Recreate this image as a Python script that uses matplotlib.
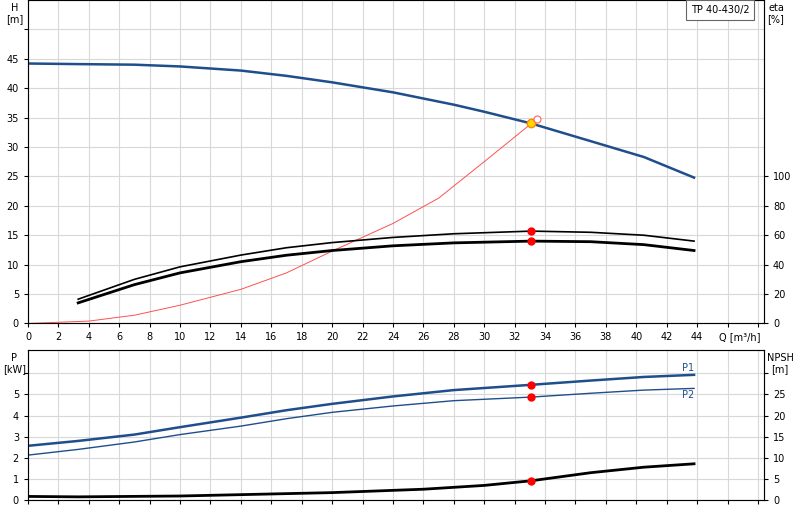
import matplotlib
matplotlib.use("Agg")
import matplotlib.pyplot as plt
import numpy as np

q_h = [0, 3.3, 7, 10, 14, 17, 20, 24, 28, 30, 33.1, 37, 40.5, 43.8]
h_vals = [44.2, 44.1, 44.0, 43.7, 43.0, 42.1, 41.0, 39.3, 37.2, 36.0, 34.0, 31.0, 28.3, 24.8]
q_e = [3.3, 7, 10, 14, 17, 20, 24, 28, 33.1, 37, 40.5, 43.8]
eta1 = [16.5, 30, 38.5, 46.5, 51.5, 55, 58.5, 61, 62.8, 62, 60, 56]
eta2 = [14, 26.4, 34.4, 42, 46.4, 49.6, 52.8, 54.8, 56, 55.6, 53.6, 49.6]
q_sys = [0, 4, 7, 10, 14, 17, 20, 24, 27, 30, 33.1]
h_sys = [0, 0.4, 1.4, 3.1, 5.8, 8.6, 12.3, 17.0, 21.3, 27.5, 34.0]
q_p = [0, 3.3, 7, 10, 14, 17, 20, 24, 28, 33.1, 37, 40.5, 43.8]
p1 = [2.57, 2.8, 3.1, 3.45, 3.9, 4.25, 4.55, 4.9, 5.2, 5.45, 5.65, 5.82, 5.92]
p2 = [2.13, 2.4, 2.75, 3.1, 3.5, 3.85, 4.15, 4.45, 4.7, 4.87, 5.05, 5.2, 5.28]
q_n = [0, 3.3, 10, 20, 26, 30, 33.1, 37, 40.5, 43.8]
npsh = [0.9, 0.8, 1.0, 1.8, 2.6, 3.5, 4.6, 6.5, 7.8, 8.6]
duty_q, duty_h = 33.1, 34.0

blue = "#1f4e8c"
fs = 7
fig = plt.figure(figsize=(8, 5.2), dpi=100)
ax = fig.add_axes([0.035, 0.378, 0.92, 0.622])
ax2 = fig.add_axes([0.035, 0.038, 0.92, 0.288])

xlim = (0, 48.4)
for a in (ax, ax2):
    a.set_xlim(*xlim)
    a.set_xticks(np.arange(0, 49, 2))
    a.grid(True, color="#d8d8d8", lw=0.8)
    a.tick_params(labelsize=fs, length=3, direction="out")
    for s in a.spines.values():
        s.set_color("#888888")
ax.set_ylim(0, 55)
ax.set_yticks(np.arange(0, 55, 5))
ax.set_yticklabels([str(v) for v in range(0, 50, 5)] + [""])
ax.set_xticklabels([str(v) for v in range(0, 46, 2)] + ["", ""])
fig.text(0.925, 0.352, "Q [m³/h]", fontsize=fs, ha="center", va="center")

ax.plot(q_h, h_vals, color=blue, lw=1.8)
ax.plot(q_sys, h_sys, color="#ff5050", lw=0.7)
ax.plot(q_e, [v / 4 for v in eta1], color="black", lw=1.2)
ax.plot(q_e, [v / 4 for v in eta2], color="black", lw=2.0)
ax.plot([duty_q], [duty_h], "o", color="#ffd700", mec="#ff8800", ms=6)
ax.plot([33.5], [34.7], "o", mfc="white", mec="#ff6060", ms=5, mew=0.8)
ax.plot([duty_q, duty_q], [62.8 / 4, 56 / 4], "o", color="red", ms=5, ls="none")

axr = ax.twinx()
axr.set_ylim(0, 220)
axr.set_yticks(np.arange(0, 101, 20))
axr.tick_params(labelsize=fs, length=3)
fig.text(0.018, 0.995, "H\n[m]", fontsize=fs, ha="center", va="top")
fig.text(0.97, 0.995, "eta\n[%]", fontsize=fs, ha="center", va="top")
fig.text(0.9, 0.99, "TP 40-430/2", fontsize=fs, ha="center", va="top",
         bbox=dict(boxstyle="square,pad=0.5", fc="white", ec="#666666", lw=0.8))

ax2.set_ylim(0, 7.07)
ax2.set_yticks(np.arange(0, 7, 1))
ax2.set_yticklabels([str(v) for v in range(0, 6)] + [""])
ax2.set_xticklabels([])
ax2.plot(q_p, p1, color=blue, lw=1.8)
ax2.plot(q_p, p2, color=blue, lw=1.0)
ax2.plot([duty_q, duty_q], [5.45, 4.87], "o", color="red", ms=5, ls="none")
ax2.text(43.0, 6.0, "P1", color=blue, fontsize=fs, va="bottom")
ax2.text(43.0, 5.2, "P2", color=blue, fontsize=fs, va="top")
ax2r = ax2.twinx()
ax2r.set_ylim(0, 35.35)
ax2r.set_yticks(np.arange(0, 31, 5))
ax2r.set_yticklabels([str(v) for v in range(0, 30, 5)] + [""])
ax2r.tick_params(labelsize=fs, length=3)
ax2r.plot(q_n, npsh, color="black", lw=2.0)
ax2r.plot([duty_q], [4.6], "o", color="red", ms=5)
fig.text(0.018, 0.322, "P\n[kW]", fontsize=fs, ha="center", va="top")
fig.text(0.975, 0.322, "NPSH\n[m]", fontsize=fs, ha="center", va="top")

fig.savefig("out.png", dpi=100)
